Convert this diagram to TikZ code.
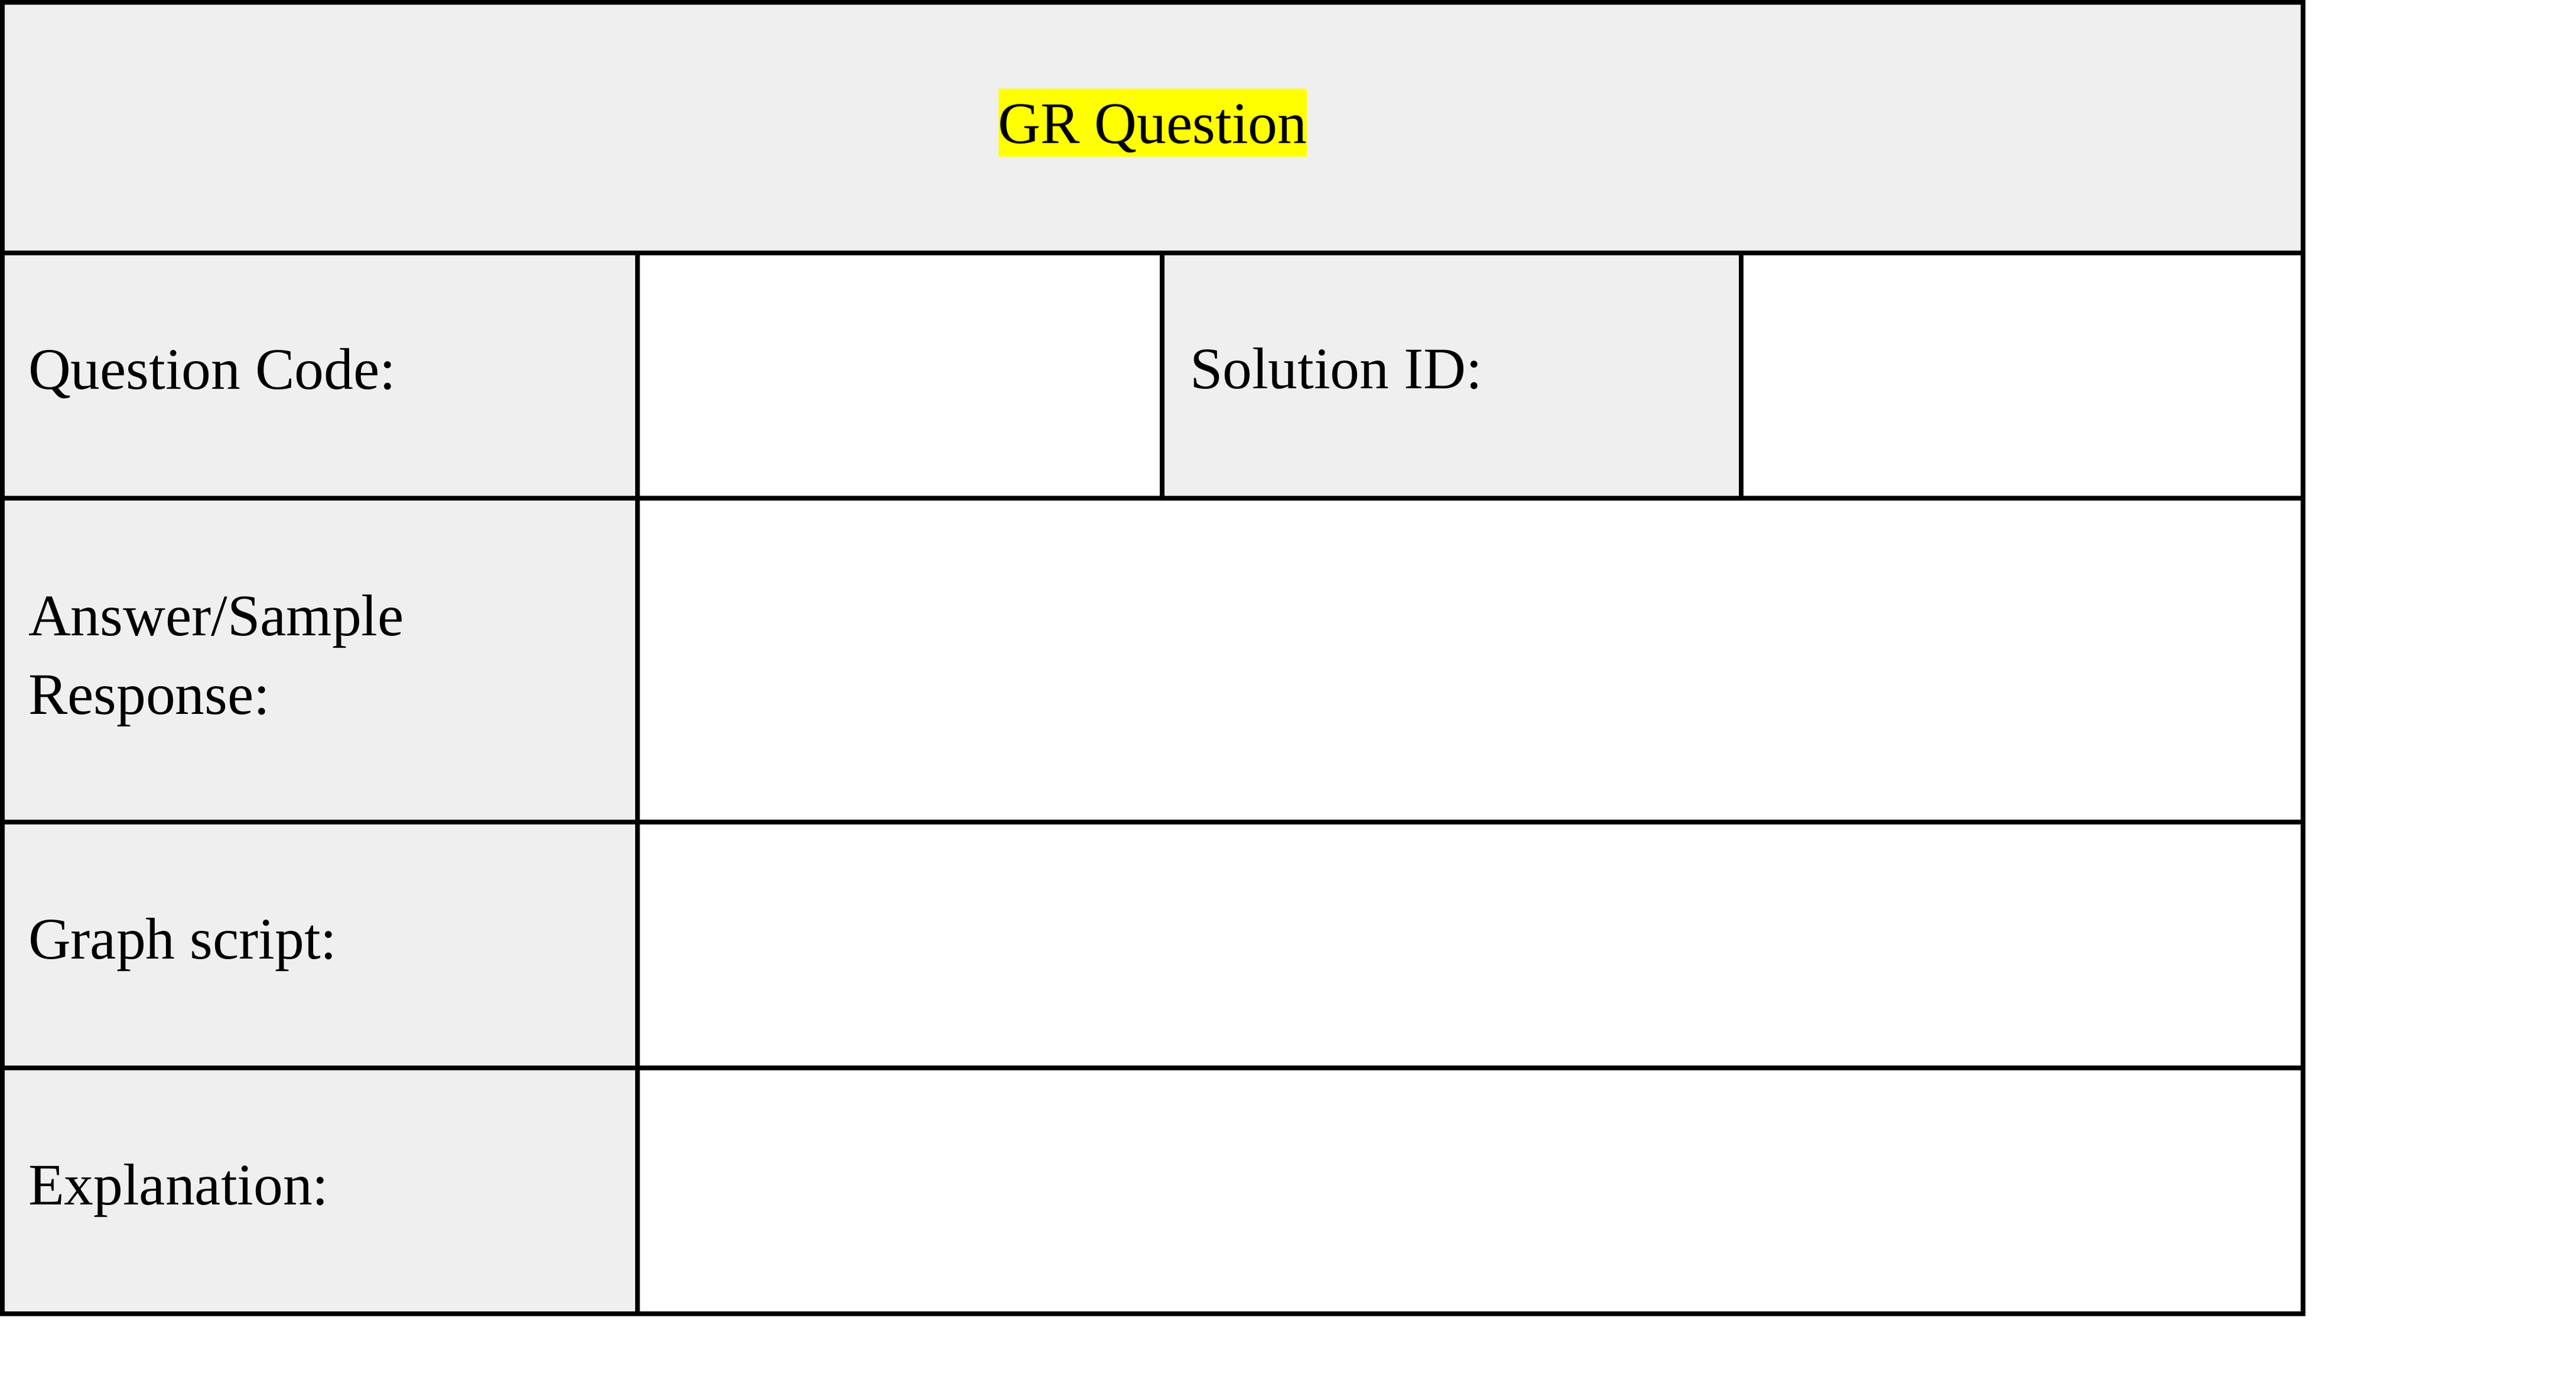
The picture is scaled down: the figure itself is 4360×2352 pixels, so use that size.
\documentclass[tikz,border=0pt]{standalone}
\usepackage{fontspec}
\setmainfont{Liberation Serif}
\definecolor{cellgray}{RGB}{239,239,239}
\definecolor{markyellow}{RGB}{255,255,0}

\begin{document}
\begin{tikzpicture}[x=0.01cm, y=-0.01cm, line width=0.08cm,
	cellfont/.style={font=\fontsize{28.3}{37.8}\selectfont},
	celltext/.style={cellfont, anchor=base west, inner sep=0pt, align=left}]
	\useasboundingbox (0,0) rectangle (4360,2352);
	% shaded cells
	\fill[cellgray] (4,4) rectangle (3898,428);
	\fill[cellgray] (4,428) rectangle (1079,2223);
	\fill[cellgray] (1967,428) rectangle (2947,843);
	% grid
	\draw (4,4) rectangle (3898,2223);
	\draw (4,428) -- (3898,428);
	\draw (4,843) -- (3898,843);
	\draw (4,1391) -- (3898,1391);
	\draw (4,1807) -- (3898,1807);
	\draw (1079,428) -- (1079,2223);
	\draw (1967,428) -- (1967,843);
	\draw (2947,428) -- (2947,843);
	% labels
	\node[cellfont, anchor=base, fill=markyellow, inner xsep=0pt, inner ysep=0pt,
		text height=0.93cm, text depth=0.22cm] (title) at (1951,243) {GR Question};
	\node[celltext] (code) at (44,659) {Question Code:};
	\node[celltext] (solid) at (2010,658) {Solution ID:};
	\node[celltext] (answer) at (44,1208) {Answer/Sample\\Response:};
	\node[celltext] (graph) at (44,1622) {Graph script:};
	\node[celltext] (expl) at (44,2038) {Explanation:};
\end{tikzpicture}
\end{document}
